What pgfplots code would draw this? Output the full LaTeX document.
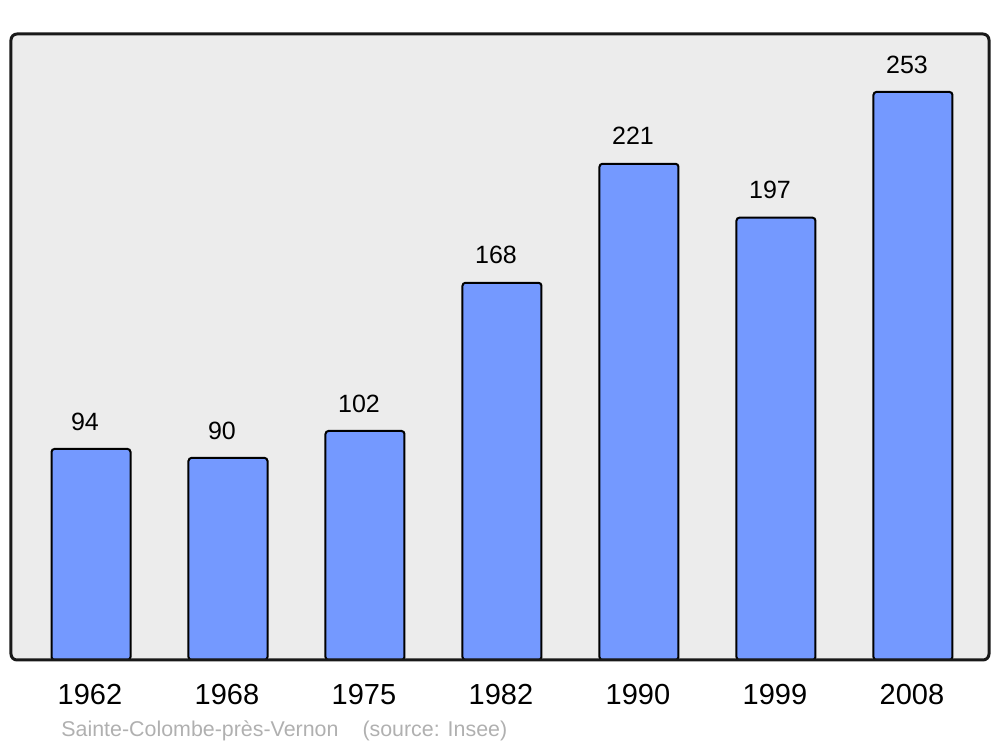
\documentclass[border=0pt]{standalone}
\usepackage{pgfplots}
\pgfplotsset{compat=1.18}
\usepackage{fontspec}
\setmainfont{Liberation Sans}
\definecolor{bgc}{HTML}{ECECEC}
\definecolor{barc}{HTML}{7499FF}
\definecolor{footc}{HTML}{B0B0B0}
\begin{document}
\begin{tikzpicture}
\useasboundingbox (0,0) rectangle (500pt,373.5pt);
\begin{axis}[
  at={(5.5pt,43.5pt)}, anchor=south west,
  scale only axis, width=489pt, height=313pt,
  xmin=-0.584, xmax=6.555, ymin=0, ymax=278.8,
  axis line style={draw=none},
  axis background/.style={fill=bgc, rounded corners=3pt},
  xtick=data, xticklabels={1962,1968,1975,1982,1990,1999,2008},
  ytick=\empty, major tick length=0pt,
  xticklabel style={font=\fontsize{14.5}{16}\selectfont, anchor=center, yshift=-17.5pt, xshift=-0.5pt},
  /pgf/number format/assume math mode=true,
  ybar, bar width=39.5pt,
  nodes near coords,
  every node near coord/.append style={font=\fontsize{12.5}{14}\selectfont, anchor=center, yshift=13.75pt, xshift=-3pt, black},
  clip=false,
]
\addplot[fill=barc, draw=black, line width=1pt, rounded corners=1.5pt] coordinates {(0,94) (1,90) (2,102) (3,168) (4,221) (5,197) (6,253)};
\draw[line width=1.5pt, rounded corners=3pt, black!90] (rel axis cs:0,0) rectangle (rel axis cs:1,1);
\end{axis}
\node[anchor=base west, font=\fontsize{10.7}{12}\selectfont, text=footc, inner sep=0pt] at (30.5pt,5pt) {Sainte-Colombe-près-Vernon\hspace{12pt}(source: Insee)};
\end{tikzpicture}
\end{document}
